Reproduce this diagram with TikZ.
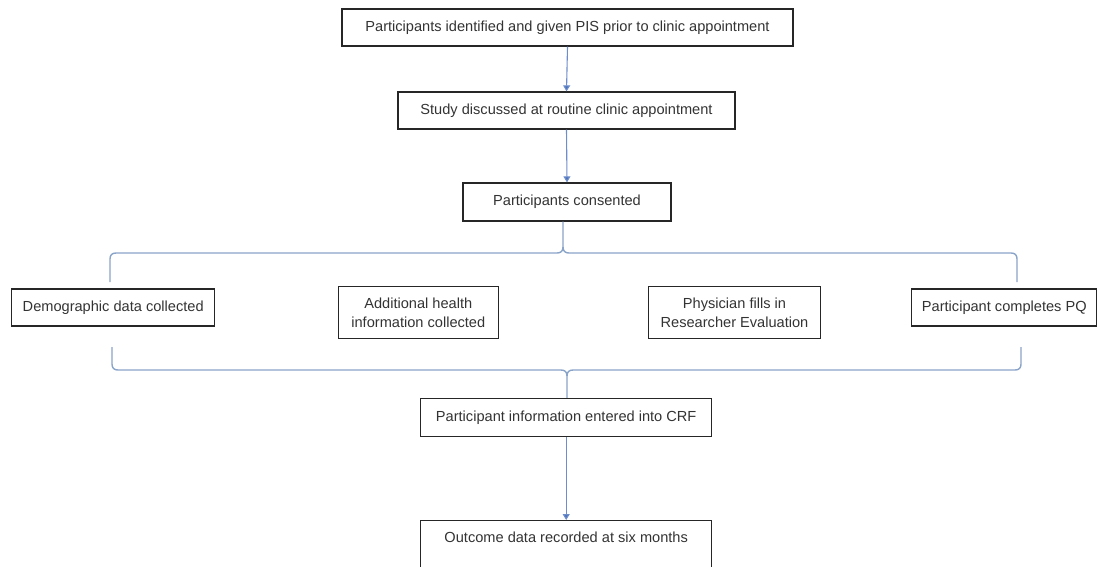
\documentclass[tikz,border=0pt]{standalone}
\usepackage{fontspec}
\setmainfont{Liberation Sans}
\usetikzlibrary{arrows.meta}
\definecolor{arrowblue}{HTML}{4A72BE}
\definecolor{braceblue}{HTML}{8AA3C8}
\tikzset{
  txt/.style={font=\fontsize{14.6}{18.5}\selectfont, text=black!80},
  box/.style={draw=black!85, line width=1.3pt, rectangle, inner sep=0pt, align=center, txt},
  flowarrow/.style={draw=arrowblue!80, line width=1.1pt, -{Triangle[width=7pt,length=6pt,fill=arrowblue]}},
  bracel/.style={draw=braceblue, line width=1.4pt},
}
\begin{document}
\begin{tikzpicture}[x=1pt,y=-1pt]
\useasboundingbox (0,0) rectangle (1099,566);
\clip (0,0) rectangle (1099,566);
% main chain
\node[box, minimum width=451, minimum height=37] (b1) at (567.5,27.5) {Participants identified and given PIS prior to clinic appointment};
\node[box, minimum width=337, minimum height=37] (b2) at (566.5,110.5) {Study discussed at routine clinic appointment};
\node[box, minimum width=208, minimum height=38] (b3) at (567,202) {Participants consented};
% four parallel tasks
\node[box, minimum width=203, minimum height=37] (dem) at (113.2,307.5) {Demographic data collected};
\node[box, minimum width=160, minimum height=52] (add) at (418.3,312.7) {Additional health\\information collected};
\node[box, minimum width=172, minimum height=52] (phy) at (734.5,312.7) {Physician fills in\\Researcher Evaluation};
\node[box, minimum width=185, minimum height=37] (pq) at (1004.3,307.5) {Participant completes PQ};
% final steps
\node[box, minimum width=291, minimum height=38] (crf) at (566.2,417.5) {Participant information entered into CRF};
\node[box, minimum width=291, minimum height=80, anchor=north] (out) at (566.2,520) {};
\node[txt] (outt) at ([yshift=-17pt]out.north) {Outcome data recorded at six months};
% arrows
\draw[flowarrow] (b1.south) -- (b2.north);
\draw[flowarrow] (b2.south) -- (b3.north);
\draw[flowarrow] (crf.south) -- (out.north);
% top brace
\coordinate (tl) at (110,282);
\coordinate (tr) at (1017,282);
\coordinate (tc) at (563,247);
\draw[bracel] (tl) -- (110,259) .. controls (110,255) and (112,253) .. (116,253) -- (557,253) .. controls (561,253) and (563,251) .. (tc) -- (b3.south -| tc);
\draw[bracel] (tr) -- (1017,259) .. controls (1017,255) and (1015,253) .. (1011,253) -- (569,253) .. controls (565,253) and (563,251) .. (tc);
% bottom brace
\coordinate (bl) at (112,347);
\coordinate (br) at (1021,347);
\coordinate (bc) at (567,376);
\draw[bracel] (bl) -- (112,364) .. controls (112,368) and (114,370) .. (118,370) -- (561,370) .. controls (565,370) and (567,372) .. (bc) -- (crf.north -| bc);
\draw[bracel] (br) -- (1021,364) .. controls (1021,368) and (1019,370) .. (1015,370) -- (573,370) .. controls (569,370) and (567,372) .. (bc);
\end{tikzpicture}
\end{document}
